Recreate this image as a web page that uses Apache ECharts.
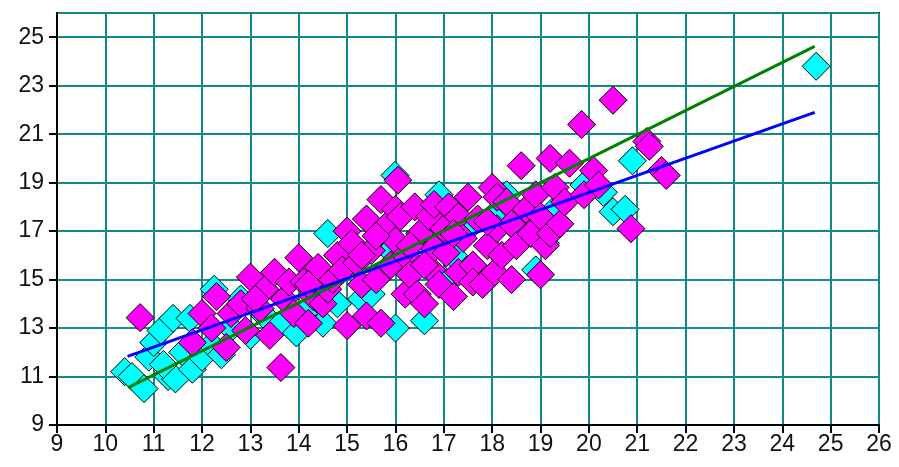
<!DOCTYPE html>
<html>
<head>
<meta charset="utf-8">
<script src="https://cdn.jsdelivr.net/npm/echarts@6/dist/echarts.min.js"></script>
<style>
  html, body { margin: 0; padding: 0; background: #fff; }
  #chart { width: 899px; height: 467px; }
</style>
</head>
<body>
<div id="chart"></div>
<script>
// cyan group (drawn first, underneath)
const cyanPoints = [
  [10.4, 11.2], [10.55, 11.0], [10.8, 10.5], [10.9, 11.8], [11.0, 12.4], [11.15, 12.9],
  [11.4, 13.4], [11.3, 11.0], [11.45, 10.9], [11.2, 11.5], [11.6, 12.0], [11.8, 11.3],
  [11.75, 13.4], [12.0, 11.8], [12.2, 12.3], [12.25, 14.6], [12.4, 11.9], [12.6, 13.0],
  [13.0, 12.7], [13.3, 13.5], [13.6, 13.1], [13.95, 12.8], [14.1, 13.6], [14.5, 13.2],
  [14.6, 16.9], [14.8, 14.0], [15.3, 14.2], [15.5, 14.4], [15.99, 19.3], [16.0, 13.0],
  [16.6, 13.3], [16.9, 18.5], [17.2, 16.0], [17.6, 17.3], [18.3, 18.5], [18.6, 16.9],
  [18.9, 15.4], [19.3, 17.9], [19.9, 18.9], [20.3, 18.6], [20.5, 17.8], [20.75, 17.9],
  [20.9, 19.9], [24.7, 23.8], [12.8, 14.2], [15.9, 16.2], [17.0, 15.0], [18.0, 17.6],
  [19.1, 16.5]
];

// magenta group
const magentaPoints = [
  [10.72, 13.43], [11.8, 12.4], [12.0, 13.6], [12.2, 13.0], [12.3, 14.3], [12.5, 12.2],
  [12.6, 13.6], [12.8, 14.0], [12.9, 12.9], [13.0, 15.1], [13.2, 13.8], [13.3, 14.6],
  [13.4, 12.7], [13.5, 15.3], [13.63, 11.37], [13.7, 14.2], [13.8, 14.9], [13.9, 13.6],
  [14.0, 15.9], [14.1, 14.9], [14.2, 13.2], [14.3, 14.3], [14.4, 15.5], [14.5, 14.0],
  [14.6, 14.6], [14.7, 15.0], [14.8, 16.0], [14.9, 15.4], [15.0, 17.0], [15.0, 13.1],
  [15.1, 16.5], [15.2, 15.7], [15.3, 14.8], [15.4, 13.5], [15.4, 17.5], [15.5, 16.2],
  [15.6, 15.0], [15.7, 18.3], [15.7, 13.2], [15.8, 17.2], [15.9, 15.6], [16.0, 16.6],
  [16.0, 17.9], [16.05, 19.1], [16.1, 17.6], [16.2, 16.0], [16.2, 14.4], [16.3, 15.2],
  [16.4, 18.0], [16.45, 14.4], [16.5, 16.9], [16.6, 14.0], [16.7, 17.6], [16.75, 15.4],
  [16.8, 18.1], [16.8, 16.3], [16.9, 14.8], [17.0, 17.1], [17.05, 16.1], [17.1, 18.0],
  [17.2, 14.3], [17.3, 15.3], [17.3, 17.6], [17.4, 16.7], [17.5, 18.4], [17.6, 15.6],
  [17.6, 14.9], [17.7, 17.5], [17.8, 14.8], [17.9, 16.4], [18.0, 18.8], [18.05, 15.3],
  [18.1, 17.1], [18.1, 18.4], [18.2, 16.0], [18.3, 18.2], [18.4, 17.3], [18.4, 15.0],
  [18.5, 16.4], [18.6, 19.7], [18.7, 17.9], [18.8, 16.9], [18.9, 18.5], [19.0, 15.2],
  [19.0, 17.6], [19.1, 16.4], [19.2, 20.0], [19.2, 16.9], [19.3, 18.8], [19.4, 17.3],
  [19.5, 18.2], [19.6, 19.8], [19.85, 21.4], [19.9, 18.5], [20.1, 19.5], [20.2, 18.9],
  [20.5, 22.4], [20.87, 17.1], [21.2, 20.7], [21.25, 20.5], [21.5, 19.5], [21.6, 19.3],
  [15.3, 16.0], [15.6, 16.8], [16.3, 16.4], [16.6, 15.6], [17.2, 16.9], [17.9, 17.4],
  [14.2, 14.8], [13.1, 14.2]
];

// fitted lines, end points
const greenLine = [[10.47, 10.54], [24.67, 24.62]];
const blueLine = [[10.46, 11.83], [24.67, 21.9]];

const xTicks = { min: 9, max: 26, step: 1 };
const yTicks = { min: 9, max: 26, step: 2 };

const chart = echarts.init(document.getElementById('chart'));

const gridColor = '#128a8a';
const labelFont = { color: '#111', fontSize: 23, fontFamily: 'Liberation Sans, Arial, sans-serif' };

const option = {
  animation: false,
  grid: {
    left: 57, right: 20, top: 13, bottom: 42,
    show: true, borderColor: '#000', borderWidth: 2, backgroundColor: '#fff'
  },
  xAxis: {
    type: 'value',
    min: xTicks.min, max: xTicks.max, interval: xTicks.step,
    axisLine: { show: true, onZero: false, lineStyle: { color: '#000', width: 2 } },
    axisTick: { show: true, length: 8, lineStyle: { color: '#000', width: 2 } },
    axisLabel: Object.assign({ margin: 8 }, labelFont),
    splitLine: { show: true, lineStyle: { color: gridColor, width: 2 } }
  },
  yAxis: {
    type: 'value',
    min: yTicks.min, max: yTicks.max, interval: yTicks.step,
    axisLine: { show: true, onZero: false, lineStyle: { color: '#000', width: 2 } },
    axisTick: { show: true, length: 8, lineStyle: { color: '#000', width: 2 } },
    axisLabel: Object.assign({ margin: 13, showMaxLabel: false }, labelFont),
    splitLine: { show: true, lineStyle: { color: gridColor, width: 2 } }
  },
  series: [
    {
      type: 'scatter',
      data: cyanPoints,
      symbol: 'diamond',
      symbolSize: [28, 28],
      itemStyle: { color: '#00ffff', borderColor: '#000', borderWidth: 1, opacity: 1 }
    },
    {
      type: 'scatter',
      data: magentaPoints,
      symbol: 'diamond',
      symbolSize: [28, 28],
      itemStyle: { color: '#ff00ff', borderColor: '#000', borderWidth: 1, opacity: 1 }
    },
    {
      type: 'line',
      data: greenLine,
      symbol: 'none',
      lineStyle: { color: '#008000', width: 3 }
    },
    {
      type: 'line',
      data: blueLine,
      symbol: 'none',
      lineStyle: { color: '#0000ff', width: 3 }
    }
  ]
};

chart.setOption(option);
</script>
</body>
</html>
